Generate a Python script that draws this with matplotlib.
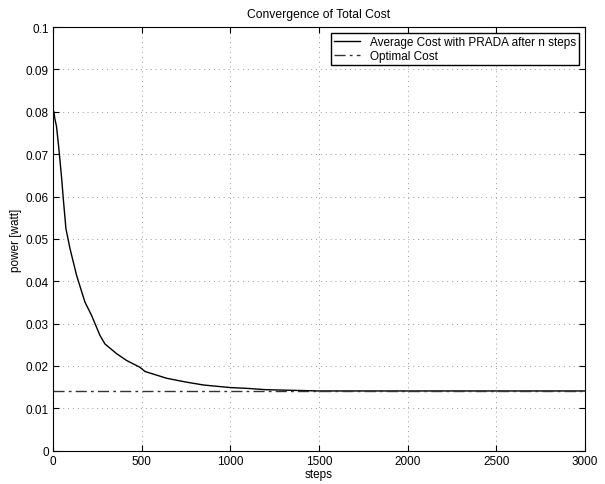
import matplotlib
matplotlib.use("Agg")
import matplotlib.pyplot as plt

steps = [0, 5, 10, 20, 35, 49, 58, 73, 96, 133, 180, 218, 265, 293, 359, 415, 490, 519, 641,
         750, 850, 1000, 1100, 1200, 1300, 1400, 1500, 1700, 2000, 2500, 3000]
avg_cost = [0.0805, 0.0800, 0.0785, 0.0765, 0.0705, 0.0642, 0.0595, 0.0524, 0.0477, 0.0414,
            0.0351, 0.0319, 0.0272, 0.0252, 0.0229, 0.0213, 0.0197, 0.0187, 0.0171,
            0.0162, 0.0155, 0.0149, 0.0147, 0.0144, 0.0143, 0.0142, 0.0141, 0.0141, 0.0141, 0.0141, 0.0141]
optimal_cost = 0.0141
xticks = [0, 500, 1000, 1500, 2000, 2500, 3000]
yticks = [0, 0.01, 0.02, 0.03, 0.04, 0.05, 0.06, 0.07, 0.08, 0.09, 0.1]
ytick_labels = ["0", "0.01", "0.02", "0.03", "0.04", "0.05", "0.06", "0.07", "0.08", "0.09", "0.1"]

plt.rcParams['font.family'] = ['Liberation Sans', 'DejaVu Sans']
fig = plt.figure(figsize=(6.05, 4.85), dpi=100)
ax = fig.add_axes([0.0876, 0.0687, 0.879, 0.8733])
ax.plot(steps, avg_cost, color='black', lw=1.0, label='Average Cost with PRADA after n steps')
ax.plot([xticks[0], xticks[-1]], [optimal_cost, optimal_cost], color='#333333', lw=1.0,
        linestyle=(0, (8, 3, 2, 3)), label='Optimal Cost')
ax.set_xlim(0, 3000)
ax.set_ylim(0, 0.1)
ax.set_xticks(xticks)
ax.set_yticks(yticks)
ax.set_yticklabels(ytick_labels)
ax.tick_params(direction='in', labelsize=8.5, length=4, top=True, right=True, pad=3)
ax.grid(True, linestyle=(0, (1, 4)), color='#999999', lw=0.7)
ax.set_xlabel('steps', fontsize=8.5, labelpad=1)
ax.set_ylabel('power [watt]', fontsize=8.5, labelpad=3)
ax.set_title('Convergence of Total Cost', fontsize=8.7, pad=7)
leg = ax.legend(loc='upper right', fontsize=8.5, fancybox=False, framealpha=1, edgecolor='black',
                borderaxespad=0.5, handlelength=2.2, labelspacing=0.15, borderpad=0.25)
leg.get_frame().set_linewidth(1.0)
fig.savefig('out.png', dpi=100)
